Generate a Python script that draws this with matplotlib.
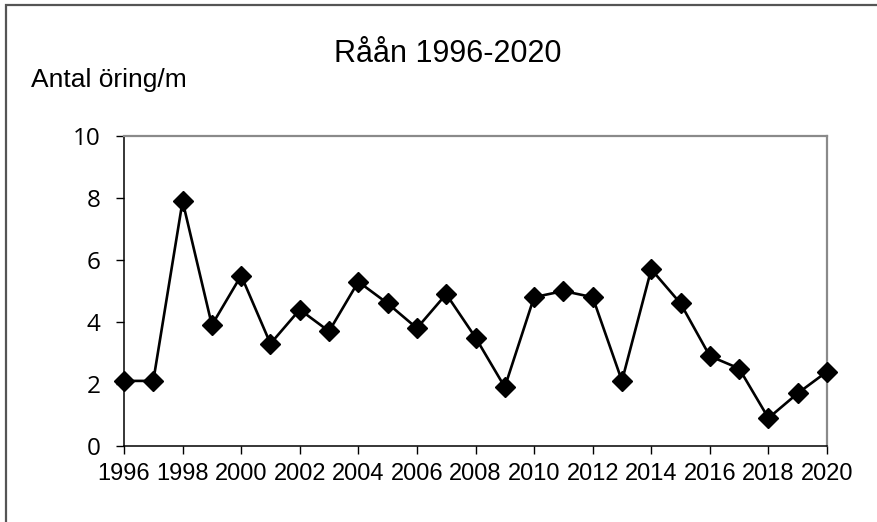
import matplotlib
matplotlib.use("Agg")
import matplotlib.pyplot as plt
from matplotlib.patches import Rectangle

years = list(range(1996, 2021))
values = [2.1, 2.1, 7.9, 3.9, 5.5, 3.3, 4.4, 3.7, 5.3, 4.6, 3.8, 4.9, 3.5,
          1.9, 4.8, 5.0, 4.8, 2.1, 5.7, 4.6, 2.9, 2.5, 0.9, 1.7, 2.4]
xticks = list(range(1996, 2021, 2))
yticks = [0, 2, 4, 6, 8, 10]
title = "Råån 1996-2020"
ylabel = "Antal öring/m"

W, H = 877, 522
fig = plt.figure(figsize=(W / 100, H / 100), dpi=100)
fig.patch.set_facecolor("white")

# outer frame (left and top visible)
fig.patches.append(Rectangle((6 / W, -0.1), 1.2, (H - 5) / H + 0.1,
                             transform=fig.transFigure, fill=False,
                             edgecolor="#555555", linewidth=1.6))

ax = fig.add_axes([124 / W, 1 - 446 / H, (827 - 124) / W, (446 - 136) / H])
ax.plot(years, values, color="black", linewidth=1.9, marker="D",
        markersize=10.5, markerfacecolor="black", markeredgecolor="black",
        clip_on=False, zorder=3)
ax.set_xlim(1996, 2020)
ax.set_ylim(0, 10)
ax.set_xticks(xticks)
ax.set_xticklabels([str(t) for t in xticks], fontfamily="Liberation Sans", fontsize=17)
ax.set_yticks(yticks)
ax.set_yticklabels([str(t) for t in yticks], fontfamily="Open Sans", fontsize=17.5)
ax.tick_params(axis="both", direction="out", length=6, width=1, color="black")
ax.tick_params(axis="x", pad=6.5)
ax.tick_params(axis="y", pad=11)
for s in ["left", "bottom"]:
    ax.spines[s].set_color("black")
    ax.spines[s].set_linewidth(1.1)
for s in ["top", "right"]:
    ax.spines[s].set_color("#8a8a8a")
    ax.spines[s].set_linewidth(1.6)

fig.text(448 / W, 1 - 62.5 / H, title, ha="center", va="baseline",
         fontfamily="Liberation Sans", fontsize=22)
fig.text(31 / W, 1 - 86.5 / H, ylabel, ha="left", va="baseline",
         fontfamily="Liberation Sans", fontsize=19)

fig.savefig("out.png", dpi=100)
